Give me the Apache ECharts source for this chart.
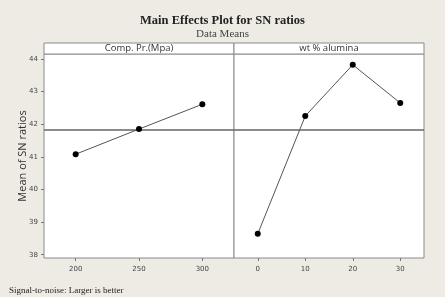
<!DOCTYPE html>
<html><head><meta charset="utf-8">
<script src="https://cdn.jsdelivr.net/npm/echarts@6/dist/echarts.min.js"></script>
<style>html,body{margin:0;padding:0;background:#eeebe5}#c{width:445px;height:297px}</style>
</head><body><div id="c"></div>
<script>
const pressureLevels = [200, 250, 300];
const pressureSN = [41.08, 41.85, 42.61];
const aluminaLevels = [0, 10, 20, 30];
const aluminaSN = [38.64, 42.25, 43.82, 42.65];
const yTicks = [38, 39, 40, 41, 42, 43, 44];
const grandMean = 41.83;
const panelTitles = ["Comp. Pr.(Mpa)", "wt % alumina"];

const chart = echarts.init(document.getElementById('c'), null, {renderer: 'canvas'});
const tickLbl = {fontSize: 7, color: '#444', fontFamily: 'DejaVu Sans'};
function xAxis(idx, min, max, vals) {
  return {type: 'value', gridIndex: idx, min: min, max: max,
    axisLine: {show: false},
    axisTick: {show: true, length: 3, customValues: vals, lineStyle: {color: '#777'}},
    axisLabel: {show: true, customValues: vals, margin: 8, ...tickLbl},
    splitLine: {show: false}};
}
function yAxis(idx, show) {
  return {type: 'value', gridIndex: idx, min: 37.9, max: 44.15,
    axisLine: {show: false},
    axisTick: {show: show, length: 3, customValues: yTicks, lineStyle: {color: '#777'}},
    axisLabel: {show: show, customValues: yTicks, margin: 6, ...tickLbl},
    splitLine: {show: false},
    name: show ? 'Mean of SN ratios' : '', nameLocation: 'middle', nameGap: 16, nameMoveOverlap: false,
    nameTextStyle: {fontSize: 11, color: '#333', fontFamily: 'Open Sans'}};
}
const lineStyle = {color: '#555', width: 1};
const mark = {silent: true, symbol: 'none', label: {show: false},
  lineStyle: {color: '#666', width: 1.5, type: 'solid'}, data: [{yAxis: grandMean}]};
chart.setOption({
  backgroundColor: '#eeebe5',
  animation: false,
  title: [
    {text: 'Main Effects Plot for SN ratios', left: 'center', top: 9,
     textStyle: {fontFamily: 'Liberation Serif', fontWeight: 'bold', fontSize: 12.5, color: '#222'}},
    {text: 'Data Means', left: 'center', top: 24,
     textStyle: {fontFamily: 'Liberation Serif', fontWeight: 'normal', fontSize: 11, color: '#444'}},
    {text: 'Signal-to-noise: Larger is better', left: 4, top: 281,
     textStyle: {fontFamily: 'Liberation Serif', fontWeight: 'normal', fontSize: 9, color: '#222'}}
  ],
  grid: [
    {left: 44, top: 54, width: 190, height: 204, show: true, backgroundColor: '#fff', borderColor: '#8a8a8a', borderWidth: 1},
    {left: 234, top: 54, width: 190, height: 204, show: true, backgroundColor: '#fff', borderColor: '#8a8a8a', borderWidth: 1}
  ],
  xAxis: [xAxis(0, 175, 325, pressureLevels), xAxis(1, -5, 35, aluminaLevels)],
  yAxis: [yAxis(0, true), yAxis(1, false)],
  graphic: [
    {type: 'rect', shape: {x: 44, y: 43, width: 190, height: 11}, style: {fill: '#fff', stroke: '#8a8a8a', lineWidth: 1}},
    {type: 'rect', shape: {x: 234, y: 43, width: 190, height: 11}, style: {fill: '#fff', stroke: '#8a8a8a', lineWidth: 1}},
    {type: 'text', x: 139, y: 48.5, style: {text: panelTitles[0], align: 'center', verticalAlign: 'middle', fontSize: 9.5, fontFamily: 'Open Sans', fill: '#333'}},
    {type: 'text', x: 329, y: 48.5, style: {text: panelTitles[1], align: 'center', verticalAlign: 'middle', fontSize: 9.5, fontFamily: 'Open Sans', fill: '#333'}}
  ],
  series: [
    {type: 'line', xAxisIndex: 0, yAxisIndex: 0, data: pressureLevels.map((x, i) => [x, pressureSN[i]]),
     symbol: 'circle', symbolSize: 6, itemStyle: {color: '#000'}, lineStyle: lineStyle, markLine: mark, z: 5},
    {type: 'line', xAxisIndex: 1, yAxisIndex: 1, data: aluminaLevels.map((x, i) => [x, aluminaSN[i]]),
     symbol: 'circle', symbolSize: 6, itemStyle: {color: '#000'}, lineStyle: lineStyle, markLine: mark, z: 5}
  ]
});
</script></body></html>
